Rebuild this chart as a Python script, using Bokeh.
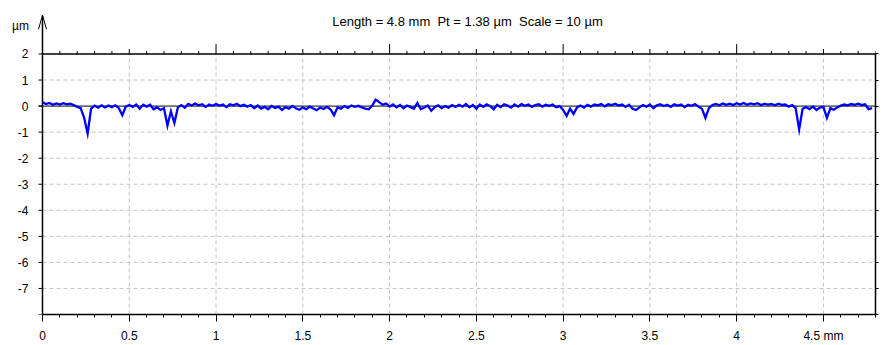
from bokeh.plotting import figure
from bokeh.models import Range1d, LinearAxis, FixedTicker, Label
from bokeh.core.properties import value
from bokeh.embed import file_html
from bokeh.resources import INLINE

# ---------------- data ----------------
title_text = "Length = 4.8 mm \u00a0Pt = 1.38 \u00b5m \u00a0Scale = 10 \u00b5m"
y_unit = "\u00b5m"

x_start = 0.0
x_end = 4.8
y_low = -8
y_high = 2
sample_step = 0.02  # mm between profile samples

# profile heights in µm, one row per 0.2 mm (10 samples each)
profile = [
    0.15, 0.08, 0.12, 0.05, 0.10, 0.06, 0.11, 0.07, 0.09, 0.04,       # 0.00
    -0.03, -0.08, -0.45, -1.05, -0.10, 0.02, -0.06, 0.03, -0.05, 0.02,  # 0.20
    -0.04, 0.03, -0.08, -0.35, -0.02, 0.04, -0.03, 0.06, -0.10, 0.05,  # 0.40
    -0.02, 0.05, -0.12, -0.05, -0.15, -0.08, -0.75, -0.20, -0.65, -0.05,  # 0.60
    0.04, -0.06, 0.08, 0.02, 0.10, 0.03, 0.07, -0.03, 0.06, 0.01,      # 0.80
    0.08, 0.02, 0.06, -0.04, 0.07, 0.03, 0.09, 0.00, 0.05, -0.02,      # 1.00
    0.04, -0.08, 0.02, -0.10, -0.03, -0.12, 0.01, -0.07, -0.02, -0.15,  # 1.20
    -0.04, -0.10, 0.00, -0.08, -0.14, -0.05, -0.12, -0.02, -0.09, -0.16,  # 1.40
    -0.06, -0.11, -0.03, -0.13, -0.35, -0.05, -0.10, 0.00, -0.07, 0.02,  # 1.60
    -0.03, 0.01, -0.05, -0.10, -0.12, 0.02, 0.25, 0.15, 0.05, 0.10,    # 1.80
    -0.02, 0.06, -0.05, 0.04, -0.08, 0.02, -0.03, -0.10, 0.12, -0.12,  # 2.00
    -0.05, 0.02, -0.18, -0.04, 0.03, -0.08, 0.00, -0.06, 0.04, -0.03,  # 2.20
    0.05, -0.02, 0.08, -0.05, 0.04, -0.10, 0.06, -0.03, 0.07, 0.00,    # 2.40
    -0.12, 0.05, -0.04, 0.07, 0.02, -0.06, 0.06, -0.02, 0.08, 0.01,    # 2.60
    0.06, -0.03, 0.04, 0.07, -0.02, 0.05, 0.01, 0.06, -0.04, 0.00,     # 2.80
    -0.15, -0.38, -0.10, -0.30, -0.05, 0.02, -0.06, 0.05, -0.02, 0.06,  # 3.00
    0.03, 0.08, -0.01, 0.07, 0.04, 0.09, 0.02, 0.06, -0.03, 0.05,      # 3.20
    -0.10, -0.15, -0.05, 0.04, -0.02, 0.06, -0.08, 0.03, 0.07, 0.00,   # 3.40
    0.05, -0.03, 0.07, 0.02, 0.06, -0.04, 0.05, 0.01, 0.08, -0.02,     # 3.60
    -0.10, -0.45, -0.08, 0.04, 0.08, 0.03, 0.10, 0.05, 0.09, 0.04,     # 3.80
    0.11, 0.06, 0.12, 0.05, 0.10, 0.07, 0.11, 0.04, 0.09, 0.06,        # 4.00
    0.08, 0.03, 0.09, 0.05, 0.06, -0.02, 0.04, -0.08, -0.90, -0.10,    # 4.20
    -0.04, -0.12, -0.02, -0.15, -0.06, -0.03, -0.45, -0.08, -0.14, -0.05,  # 4.40
    0.02, 0.06, 0.03, 0.08, 0.05, 0.09, 0.04, 0.07, -0.12, -0.08,      # 4.60
]
positions = [round(i * sample_step, 2) for i in range(len(profile))]

x_label_ticks = [0, 0.5, 1, 1.5, 2, 2.5, 3, 3.5, 4, 4.5]
x_label_text = {0: "0", 0.5: "0.5", 1: "1", 1.5: "1.5", 2: "2", 2.5: "2.5",
                3: "3", 3.5: "3.5", 4: "4", 4.5: "4.5 mm"}
x_minor_ticks = [round(i * 0.1, 1) for i in range(49)]
x_grid_ticks = [0.5, 1, 1.5, 2, 2.5, 3, 3.5, 4, 4.5]
y_label_ticks = [2, 1, 0, -1, -2, -3, -4, -5, -6, -7]
y_all_ticks = [2, 1, 0, -1, -2, -3, -4, -5, -6, -7, -8]
y_grid_ticks = [1, -1, -2, -3, -4, -5, -6, -7]

FONT = "Liberation Sans"

# ---------------- layout (pixels) ----------------
W, H = 896, 345
frame_left_px, frame_right_px = 42, 875     # where x_start / x_end sit
frame_top_px, frame_bottom_px = 54, 317     # where y_high / y_low sit
ppm = (frame_right_px - frame_left_px) / (x_end - x_start)   # px per mm
ppu = (frame_bottom_px - frame_top_px) / (y_high - y_low)    # px per µm


def dx(px):
    return px / ppm


def dy(px):
    return px / ppu


def cx(px):  # canvas x -> data x
    return x_start + dx(px - frame_left_px)


def cy(py):  # canvas y -> data y
    return y_high + dy(frame_top_px - py)


view_x0 = cx(0)
view_y1 = cy(0)

p = figure(width=W, height=H,
           x_range=Range1d(view_x0, x_end), y_range=Range1d(y_low, view_y1),
           output_backend="svg", toolbar_location=None,
           x_axis_location=None, y_axis_location=None,
           min_border_left=0, min_border_top=0,
           min_border_right=W - frame_right_px,
           min_border_bottom=H - frame_bottom_px)
p.title.visible = False
p.outline_line_color = None
p.background_fill_color = "white"
p.border_fill_color = "white"
p.xgrid.visible = False
p.ygrid.visible = False

GRID = "#c4c4c4"
# dashed grid
p.segment(x0=x_grid_ticks, y0=[y_low] * len(x_grid_ticks),
          x1=x_grid_ticks, y1=[y_high] * len(x_grid_ticks),
          line_color=GRID, line_dash="4 3", line_width=1)
p.segment(x0=[x_start] * len(y_grid_ticks), y0=y_grid_ticks,
          x1=[x_end] * len(y_grid_ticks), y1=y_grid_ticks,
          line_color=GRID, line_dash="4 3", line_width=1)

# zero line
p.segment(x0=[x_start - dx(4)], y0=[0], x1=[x_end], y1=[0],
          line_color="black", line_width=1)

# top axis line and ticks (integer / half / tenth)
p.segment(x0=[x_start], y0=[y_high], x1=[x_end], y1=[y_high],
          line_color="black", line_width=1.3)
top_len = []
for t in x_minor_ticks:
    if abs(t - round(t)) < 1e-9:
        top_len.append(dy(10))
    elif abs(t * 2 - round(t * 2)) < 1e-9:
        top_len.append(dy(5))
    else:
        top_len.append(dy(3))
p.segment(x0=x_minor_ticks, y0=[y_high] * len(x_minor_ticks),
          x1=x_minor_ticks, y1=[y_high + l for l in top_len],
          line_color="black", line_width=1)

# left axis: line with arrow, ticks and labels
arrow_tip = cy(15)
p.segment(x0=[x_start], y0=[y_low], x1=[x_start], y1=[arrow_tip],
          line_color="black", line_width=1.5)
p.segment(x0=[x_start, x_start], y0=[arrow_tip, arrow_tip],
          x1=[x_start - dx(4), x_start + dx(4)],
          y1=[arrow_tip - dy(14), arrow_tip - dy(14)],
          line_color="black", line_width=1)
p.segment(x0=[x_start] * len(y_all_ticks), y0=y_all_ticks,
          x1=[x_start - dx(4)] * len(y_all_ticks), y1=y_all_ticks,
          line_color="black", line_width=1)
p.text(x=[x_start - dx(14)] * len(y_label_ticks), y=y_label_ticks,
       text=[str(v) for v in y_label_ticks], text_align="right",
       text_baseline="middle", text_font=value(FONT),
       text_font_size="12px", text_color="black")

# bottom axis (library axis)
bottom = LinearAxis(ticker=FixedTicker(ticks=x_label_ticks, minor_ticks=x_minor_ticks),
                    bounds=(x_start, x_end))
bottom.axis_line_color = "black"
bottom.axis_line_width = 1.5
bottom.major_tick_line_color = "black"
bottom.minor_tick_line_color = "black"
bottom.major_tick_in = 0
bottom.minor_tick_in = 0
bottom.major_tick_out = 7
bottom.minor_tick_out = 3
bottom.major_label_standoff = 7
bottom.major_label_text_font = FONT
bottom.major_label_text_font_size = "12px"
bottom.major_label_text_color = "black"
bottom.major_label_overrides = x_label_text
p.add_layout(bottom, "below")

# right axis (library axis, ticks only)
right = LinearAxis(ticker=FixedTicker(ticks=y_all_ticks, minor_ticks=[]),
                   bounds=(y_low, y_high))
right.axis_line_color = "black"
right.axis_line_width = 1.5
right.major_tick_line_color = "black"
right.major_tick_in = 0
right.major_tick_out = 3
right.major_label_standoff = 0
right.major_label_overrides = {t: "" for t in y_all_ticks}
p.add_layout(right, "right")

# profile
p.line(positions, profile, line_color="#0000ff", line_width=2.3,
       line_join="miter")

# title and unit
p.add_layout(Label(x=cx(467), y=cy(21), text=title_text, text_align="center",
                   text_baseline="middle", text_font=FONT,
                   text_font_size="13px", text_color="black"))
p.add_layout(Label(x=cx(20), y=cy(26), text=y_unit, text_align="center",
                   text_baseline="middle", text_font=FONT,
                   text_font_size="12px", text_color="black"))

open("out.html", "w").write(file_html(p, INLINE))
